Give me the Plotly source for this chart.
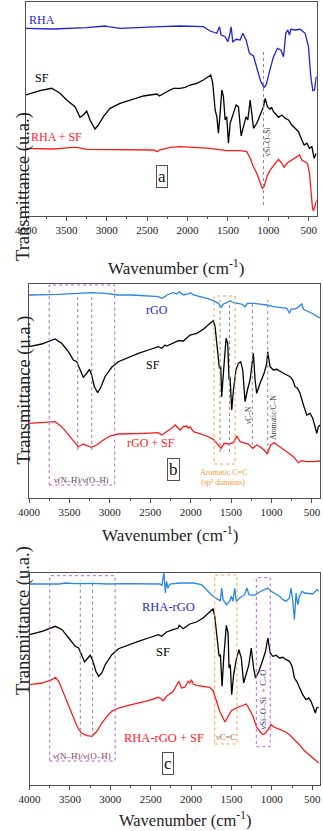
import plotly.graph_objects as go

# ---------------- Panel a ----------------
wn_a_rha = [4000, 3661, 3248, 3021, 2980, 2835, 2340, 2178, 2092, 1803, 1720, 1637, 1604, 1584, 1534, 1501, 1480, 1460, 1439, 1398, 1348, 1315, 1274, 1233, 1183, 1134, 1092, 1051, 1026, 985, 935, 886, 844, 811, 783, 758, 737, 720, 667, 605, 543, 502, 473, 448, 427, 407, 398]
t_a_rha = [187.7, 187.0, 188.3, 190.0, 189.3, 187.7, 189.3, 190.0, 190.0, 189.3, 185.0, 182.7, 189.3, 181.0, 179.3, 174.3, 180.0, 189.3, 174.3, 176.7, 176.0, 182.7, 176.0, 162.7, 160.0, 146.0, 134.3, 128.7, 131.0, 144.3, 159.3, 167.7, 166.0, 159.3, 182.7, 186.0, 181.0, 186.7, 186.0, 186.7, 182.7, 169.3, 139.3, 125.3, 126.0, 138.7, 139.3]

wn_a_sf = [4000, 3827, 3682, 3579, 3496, 3422, 3393, 3331, 3290, 3248, 3207, 3145, 3104, 3042, 2959, 2835, 2711, 2546, 2381, 2348, 2257, 2174, 2092, 2030, 1968, 1885, 1803, 1741, 1712, 1687, 1658, 1637, 1617, 1596, 1575, 1555, 1534, 1514, 1493, 1472, 1452, 1423, 1398, 1369, 1336, 1307, 1274, 1253, 1224, 1204, 1183, 1142, 1100, 1059, 1038, 1010, 977, 960, 935, 894, 873, 832, 791, 749, 708, 667, 626, 584, 555, 522, 489, 460, 431, 407]
t_a_sf = [121.0, 125.3, 127.7, 122.7, 116.0, 111.0, 109.3, 98.7, 101.0, 105.0, 96.0, 87.0, 91.0, 99.3, 107.7, 112.7, 116.0, 120.0, 122.0, 120.0, 124.3, 127.7, 127.7, 128.7, 131.0, 132.7, 136.0, 140.0, 141.0, 132.7, 106.0, 99.3, 82.7, 102.7, 126.0, 119.3, 96.0, 99.3, 72.7, 92.7, 97.7, 106.0, 111.0, 109.3, 80.0, 89.3, 99.3, 96.0, 116.0, 102.7, 87.7, 92.7, 101.0, 109.3, 117.7, 109.3, 106.7, 108.7, 104.3, 101.0, 98.7, 101.0, 97.7, 96.0, 91.0, 87.7, 84.3, 76.0, 71.0, 72.7, 67.7, 69.3, 57.7, 62.7]

wn_a_mix = [4000, 3661, 3413, 3372, 3248, 2835, 2422, 2373, 2348, 2216, 2092, 1927, 1720, 1514, 1348, 1266, 1224, 1183, 1142, 1100, 1072, 1051, 1018, 977, 915, 873, 832, 803, 770, 708, 646, 613, 584, 543, 514, 489, 473, 452, 440, 419, 398]
t_a_mix = [67.7, 67.0, 68.7, 68.7, 66.7, 66.0, 66.0, 64.3, 66.0, 68.7, 69.3, 68.7, 67.7, 65.3, 65.3, 64.3, 57.7, 49.3, 42.7, 33.3, 27.7, 29.3, 39.3, 46.0, 52.7, 56.7, 52.7, 48.7, 52.7, 56.0, 58.7, 61.0, 56.0, 54.3, 52.7, 42.7, 22.7, 7.7, 5.3, 11.0, 16.0]

# ---------------- Panel b ----------------
wn_b_rgo = [4000, 3802, 3637, 3390, 3225, 3060, 2895, 2730, 2565, 2400, 2358, 2317, 2297, 2214, 2173, 2140, 2090, 2028, 2000, 1966, 1884, 1801, 1719, 1657, 1624, 1595, 1554, 1513, 1471, 1410, 1368, 1327, 1298, 1224, 1141, 1059, 976, 894, 811, 778, 758, 688, 626, 605, 543, 482, 420, 399]
t_b_rgo = [202.7, 202.7, 203.4, 204.4, 205.0, 204.4, 202.7, 202.7, 201.7, 201.0, 199.4, 201.0, 202.7, 205.0, 203.7, 206.0, 202.7, 203.7, 205.0, 202.7, 201.0, 199.4, 197.0, 194.4, 190.4, 193.7, 195.0, 197.0, 195.0, 194.4, 193.7, 191.0, 194.4, 194.4, 193.7, 192.7, 191.0, 190.4, 189.4, 184.4, 188.4, 189.4, 193.7, 188.4, 186.0, 183.7, 180.4, 180.4]

wn_b_sf = [4000, 3843, 3678, 3596, 3513, 3451, 3410, 3369, 3328, 3287, 3253, 3225, 3191, 3150, 3109, 3060, 2977, 2895, 2771, 2647, 2523, 2400, 2358, 2317, 2297, 2214, 2152, 2090, 2008, 1925, 1843, 1760, 1719, 1698, 1669, 1645, 1628, 1616, 1595, 1575, 1562, 1542, 1525, 1513, 1492, 1471, 1439, 1410, 1381, 1356, 1327, 1298, 1265, 1245, 1224, 1203, 1183, 1141, 1092, 1059, 1047, 1018, 976, 935, 894, 853, 811, 770, 737, 708, 679, 647, 605, 564, 523, 490, 461, 440, 420, 399]
t_b_sf = [151.0, 153.7, 158.7, 154.4, 146.0, 137.7, 136.0, 127.7, 120.4, 124.4, 128.4, 122.7, 111.0, 105.0, 111.0, 121.0, 130.4, 136.0, 140.4, 144.4, 147.7, 151.0, 149.4, 152.7, 151.7, 154.4, 157.0, 156.7, 162.7, 164.4, 168.4, 174.4, 177.0, 171.0, 146.0, 129.4, 131.0, 101.0, 124.4, 151.0, 159.4, 154.4, 117.7, 121.0, 87.7, 107.7, 127.7, 134.4, 136.0, 127.7, 96.0, 107.7, 117.7, 131.0, 144.4, 117.7, 104.4, 114.4, 124.4, 134.4, 146.0, 131.0, 127.7, 128.4, 126.0, 124.4, 122.7, 121.0, 117.7, 111.0, 109.4, 104.4, 92.7, 82.7, 84.4, 79.4, 71.0, 64.4, 71.0, 72.7]

wn_b_mix = [4000, 3843, 3678, 3596, 3513, 3431, 3390, 3328, 3287, 3225, 3163, 3080, 2998, 2895, 2730, 2565, 2400, 2358, 2317, 2297, 2235, 2193, 2152, 2131, 2090, 2049, 2028, 2008, 1966, 1884, 1801, 1719, 1657, 1624, 1587, 1533, 1471, 1430, 1389, 1327, 1286, 1232, 1183, 1141, 1092, 1051, 1010, 968, 894, 811, 729, 667, 626, 564, 482, 399]
t_b_mix = [74.4, 75.0, 76.0, 71.0, 62.7, 54.4, 51.0, 53.7, 52.0, 50.4, 52.7, 57.7, 61.7, 63.7, 64.4, 64.4, 65.0, 62.7, 65.0, 66.0, 69.4, 72.7, 69.4, 67.7, 71.0, 71.7, 69.4, 71.0, 66.0, 63.7, 61.7, 58.4, 52.7, 49.4, 54.4, 53.7, 55.0, 61.7, 56.0, 54.4, 53.7, 49.4, 52.7, 51.0, 47.7, 43.7, 52.7, 55.0, 51.0, 46.0, 41.0, 35.0, 37.0, 36.0, 36.0, 36.7]

# ---------------- Panel c ----------------
wn_c_rhargo = [4000, 3844, 3638, 3556, 3433, 3227, 3022, 2816, 2611, 2405, 2385, 2360, 2336, 2319, 2303, 2286, 2262, 2138, 1974, 1871, 1810, 1748, 1686, 1637, 1621, 1604, 1563, 1522, 1501, 1481, 1460, 1440, 1399, 1337, 1308, 1284, 1214, 1152, 1090, 1049, 1008, 967, 905, 864, 823, 782, 762, 741, 720, 700, 679, 659, 626, 597, 536, 494, 461, 445, 420]
t_c_rhargo = [200.5, 200.8, 200.5, 201.5, 200.8, 201.2, 200.5, 200.8, 200.5, 200.5, 200.5, 199.2, 213.2, 191.5, 203.2, 196.5, 200.5, 201.5, 201.5, 199.8, 194.8, 189.8, 185.8, 183.8, 196.5, 184.8, 179.8, 183.2, 188.2, 183.2, 196.5, 183.2, 186.5, 189.8, 196.5, 189.8, 189.2, 192.5, 194.8, 196.5, 193.2, 191.5, 188.2, 184.8, 183.2, 186.5, 196.5, 183.2, 165.0, 191.5, 179.8, 188.2, 193.2, 191.5, 190.5, 190.5, 193.2, 194.8, 193.2]

wn_c_sf = [4000, 3844, 3679, 3597, 3515, 3433, 3392, 3359, 3318, 3277, 3248, 3215, 3178, 3145, 3104, 3063, 2981, 2899, 2775, 2652, 2529, 2405, 2364, 2303, 2221, 2159, 2147, 2097, 2015, 1933, 1851, 1769, 1727, 1707, 1678, 1653, 1637, 1616, 1596, 1575, 1563, 1542, 1530, 1514, 1497, 1473, 1440, 1407, 1378, 1349, 1316, 1284, 1255, 1226, 1201, 1160, 1111, 1078, 1049, 1020, 988, 947, 905, 864, 823, 782, 749, 720, 692, 659, 618, 577, 544, 515, 486, 461, 445, 420]
t_c_sf = [149.8, 153.2, 158.2, 154.8, 146.5, 138.2, 136.5, 129.8, 122.5, 126.5, 129.2, 123.2, 113.2, 108.2, 111.5, 119.8, 129.8, 135.8, 139.8, 143.2, 146.5, 149.8, 148.2, 152.5, 154.8, 156.5, 159.2, 155.8, 160.5, 162.5, 166.5, 172.5, 175.8, 168.2, 146.5, 128.2, 129.8, 98.2, 126.5, 153.2, 159.2, 151.5, 116.5, 119.8, 89.8, 109.8, 124.8, 134.8, 126.5, 101.5, 109.8, 119.8, 136.5, 116.5, 106.5, 113.2, 124.8, 133.2, 146.5, 131.5, 128.2, 129.2, 126.5, 127.2, 124.8, 123.2, 118.2, 106.5, 103.2, 96.5, 89.8, 84.8, 86.5, 83.2, 76.5, 71.5, 76.5, 77.2]

wn_c_mix = [4000, 3844, 3721, 3679, 3638, 3597, 3536, 3474, 3412, 3359, 3289, 3227, 3166, 3104, 3042, 2981, 2899, 2775, 2652, 2529, 2405, 2385, 2344, 2303, 2221, 2171, 2151, 2118, 2077, 2036, 2015, 1995, 1974, 1933, 1851, 1769, 1727, 1686, 1645, 1604, 1580, 1542, 1501, 1440, 1378, 1316, 1275, 1234, 1193, 1152, 1111, 1078, 1049, 1008, 967, 905, 844, 782, 720, 659, 597, 536, 474, 420]
t_c_mix = [99.8, 101.5, 104.8, 107.2, 103.2, 94.8, 83.2, 69.8, 58.2, 51.5, 48.8, 48.2, 53.2, 61.5, 68.2, 73.2, 76.5, 79.2, 81.5, 83.8, 87.2, 86.5, 83.8, 88.2, 93.2, 99.8, 103.2, 96.5, 97.2, 103.2, 101.5, 104.8, 100.5, 99.2, 98.2, 97.2, 93.8, 83.2, 73.2, 66.5, 62.5, 68.2, 73.8, 76.5, 78.2, 80.5, 74.8, 68.2, 58.2, 53.2, 49.8, 51.5, 54.8, 59.8, 57.2, 54.8, 53.2, 49.8, 44.8, 39.8, 33.8, 29.8, 24.8, 21.5]

tick_vals = [4000, 3500, 3000, 2500, 2000, 1500, 1000, 500]
tick_text = ["4000", "3500", "3000", "2500", "2000", "1500", "1000", "500"]

W, H = 323, 831
FONT = "Liberation Serif"
BLACK = "#000000"
RED = "#ff1a1a"
BLUE_A = "#2323d6"
BLUE_L = "#2b86e8"
LBL_BLUE = "#2727c8"

fig = go.Figure()

def add(wn, t, color, ax):
    fig.add_trace(go.Scatter(x=wn, y=t, mode="lines", line=dict(color=color, width=1.3),
                             xaxis="x" + ax, yaxis="y" + ax, showlegend=False, hoverinfo="skip"))

add(wn_a_rha, t_a_rha, BLUE_A, "")
add(wn_a_sf, t_a_sf, BLACK, "")
add(wn_a_mix, t_a_mix, RED, "")
add(wn_b_rgo, t_b_rgo, BLUE_L, "2")
add(wn_b_sf, t_b_sf, BLACK, "2")
add(wn_b_mix, t_b_mix, RED, "2")
add(wn_c_rhargo, t_c_rhargo, BLUE_L, "3")
add(wn_c_sf, t_c_sf, BLACK, "3")
add(wn_c_mix, t_c_mix, RED, "3")

def px(v):
    return min(1.0, max(0.0, v / W))

def py(v):
    return min(1.0, max(0.0, 1 - v / H))

def xax(x0, x1, anchor, rng):
    return dict(domain=[px(x0), px(x1)], anchor=anchor, range=rng, autorange=False,
                automargin=False,
                showline=True, mirror=True, linecolor="#505050", linewidth=1,
                showgrid=False, zeroline=False, ticks="outside", ticklen=4, tickwidth=1,
                tickcolor="#505050", tickvals=tick_vals, ticktext=tick_text,
                tickfont=dict(family=FONT, size=11, color="#222"),
                minor=dict(dtick=250, ticks="outside", ticklen=2, tickcolor="#505050"))

def yax(y0, y1, anchor, rng):
    return dict(domain=[py(y1), py(y0)], anchor=anchor, range=rng, autorange=False,
                automargin=False,
                showline=True, mirror=True, linecolor="#505050", linewidth=1,
                showgrid=False, zeroline=False, showticklabels=False, ticks="")

fig.update_layout(
    width=W, height=H, margin=dict(l=0, r=0, t=0, b=0, pad=0),
    paper_bgcolor="white", plot_bgcolor="white",
    xaxis=xax(26, 316.7, "y", [4000, 400]),
    yaxis=yax(2, 216, "x", [0, 214]),
    xaxis2=xax(29, 320, "y2", [4000, 400]),
    yaxis2=yax(284, 497.7, "x2", [0, 213.7]),
    xaxis3=xax(29.5, 319.5, "y3", [4000, 410]),
    yaxis3=yax(573.3, 784.5, "x3", [0, 211.2]),
)

ann = []
shapes = []

def txt(x, y, text, size, color, ax="", angle=0, xa="center"):
    ann.append(dict(x=x, y=y, xref="x" + ax, yref="y" + ax, text=text, showarrow=False,
                    textangle=angle, xanchor=xa, yanchor="middle",
                    font=dict(family=FONT, size=size, color=color)))

def boxlabel(x, y, text, ax):
    ann.append(dict(x=x, y=y, xref="x" + ax, yref="y" + ax, text=text, showarrow=False,
                    font=dict(family=FONT, size=17, color="#111"), bordercolor="#505050",
                    borderwidth=1, borderpad=1, bgcolor="white"))

def vline(x, y0, y1, ax):
    shapes.append(dict(type="line", xref="x" + ax, yref="y" + ax, x0=x, x1=x, y0=y0, y1=y1,
                       line=dict(color="#8a8a8a", width=1, dash="dot")))

def rect(x0, x1, y0, y1, color, ax):
    shapes.append(dict(type="rect", xref="x" + ax, yref="y" + ax, x0=x0, x1=x1, y0=y0, y1=y1,
                       line=dict(color=color, width=1, dash="dot")))

# axis titles
for cx, cy in [(176, 254), (170, 534)]:
    ann.append(dict(x=px(cx), y=py(cy), xref="paper", yref="paper",
                    text="Wavenumber (cm<sup>-1</sup>)", showarrow=False,
                    font=dict(family=FONT, size=17, color="#222")))
ann.append(dict(x=px(185), y=0, xref="paper", yref="paper", yanchor="bottom",
                text="Wavenumber (cm<sup>-1</sup>)", showarrow=False, borderpad=0,
                font=dict(family=FONT, size=16.5, color="#222")))
for cy in [110, 390, 697]:
    ann.append(dict(x=px(11), y=py(cy), xref="paper", yref="paper",
                    text="Transmittance (u.a.)", showarrow=False, textangle=-90,
                    font=dict(family=FONT, size=18.5, color="#222")))

# panel a
txt(3808, 196, "RHA", 12, LBL_BLUE)
txt(3808, 138, "SF", 12, BLACK)
txt(3628, 79, "RHA + SF", 12, RED)
boxlabel(2321, 39.5, "a", "")
vline(1059, 11, 166, "")
txt(1005, 74.5, "νSi–O–Si", 7.5, "#333", "", -90)

# panel b
rect(3750, 2940, 12.7, 212.7, "#b85fd6", "2")
vline(3397, 47.7, 202.7, "2")
vline(3224, 47.7, 202.7, "2")
rect(1710, 1450, 33.7, 201.7, "#f5a742", "2")
vline(1636, 45.7, 197.7, "2")
vline(1520, 45.7, 197.7, "2")
vline(1237, 52.7, 195.7, "2")
vline(1046, 45.7, 197.7, "2")
txt(3345, 17.7, "ν(N–H)/ν(O–H)", 8.5, "#5a3d5a", "2")
txt(1600, 25.7, "Aromatic C=C", 8, "#f29b38", "2")
txt(1600, 15.7, "(sp² domains)", 8, "#f29b38", "2")
txt(1290, 82.7, "νC–N", 7.5, "#333", "2", -90)
txt(984, 80.7, "Aromatic/C–N", 7.5, "#333", "2", -90)
txt(2416, 187.7, "rGO", 12, LBL_BLUE, "2")
txt(2460, 132.7, "SF", 12, BLACK, "2")
txt(2496, 54.7, "rGO + SF", 12, RED, "2")
boxlabel(2218, 28.7, "b", "2")

# panel c
rect(3750, 2940, 23.5, 208.8, "#b85fd6", "3")
vline(3371, 47.8, 204.5, "3")
vline(3219, 47.8, 204.5, "3")
rect(1707, 1432, 40.5, 209.5, "#f5a742", "3")
rect(1192, 1020, 37.8, 206.8, "#b85fd6", "3")
txt(3353, 28.8, "ν(N–H)/ν(O–H)", 9, "#8b3a5a", "3")
txt(1569, 47.8, "νC=C", 8.5, "#b0682e", "3")
txt(1115, 84.5, "νSi–O–Si  + C–O", 8.5, "#4a3a6a", "3", -90)
txt(2274, 177.5, "RHA-rGO", 12.5, LBL_BLUE, "3")
txt(2342, 132.5, "SF", 12.5, BLACK, "3")
txt(2335, 46.8, "RHA-rGO + SF", 12.5, RED, "3")
boxlabel(2286, 21, "c", "3")

fig.update_layout(annotations=ann, shapes=shapes)
# remove the page's default body margin so the figure sits at the window origin
fig.write_html("out.html", config={"displayModeBar": False},
               post_script="document.body.style.margin='0px';document.body.style.overflow='hidden';")
